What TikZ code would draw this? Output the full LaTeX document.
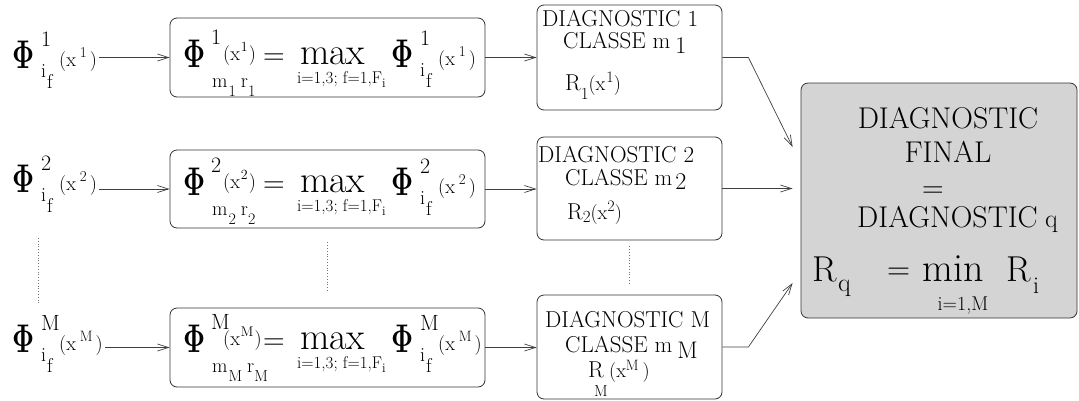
\RequirePackage{fix-cm}
\documentclass[tikz,border=0pt]{standalone}
\usepackage{graphicx}
\usetikzlibrary{arrows.meta}
\newcommand\fs[1]{\fontsize{#1}{#1}\selectfont}
\newcommand\bPhi{\scalebox{0.68}[1]{\fs{40}$\mathbf{\Phi}$}}
\tikzset{
 t/.style={inner sep=0pt, anchor=base west},
 tc/.style={inner sep=0pt, anchor=base},
 box/.style={draw=black!80, line width=0.8pt, rounded corners=7pt, inner sep=0pt},
 arr/.style={draw=black!75, line width=0.7pt, -{Straight Barb[length=11pt,width=7pt]}},
 dots/.style={draw=black!55, line width=0.8pt, dotted},
}
% Phi^{sup}_{i_f}(x^{sup}) with origin at the base of Phi
\newcommand\LeftLab[4]{%
 \begin{scope}[shift={(#2,#3)}]
  \node[t] (#1a) at (0,0) {\bPhi};
  \node[t,font=\fs{22}] (#1b) at (29,-22) {#4};
  \node[t,font=\fs{20}] (#1c) at (29,9) {i\kern1pt\raisebox{-11pt}{f}};
  \node[t,font=\fs{20}] (#1e) at (47,-2) {(x\kern4pt\raisebox{9pt}{\fs{15}#4}\kern3pt)};
 \end{scope}}
% contents of the max box
\newcommand\BoxRow[3]{%
 \begin{scope}[shift={(183,#2)}]
  \node[t] (#1a) at (0,0) {\bPhi};
  \node[t,font=\fs{22}] (#1b) at (28,-23) {#3};
  \node[t,font=\fs{20}] (#1e) at (40,-7) {(x\kern1pt\raisebox{9pt}{\fs{14}#3}\kern1pt)};
  \node[t,font=\fs{20}] (#1m) at (29,20) {m\kern1pt\raisebox{-9pt}{\fs{16}#3}\kern5pt r\raisebox{-9pt}{\fs{16}#3}};
  \node[t,font=\fs{30}] (#1q) at (80,-3) {=};
  \node[t,font=\fs{38}] (#1x) at (117,-3) {max};
  \node[t,font=\fs{17}] (#1l) at (114,16) {i=1,3; f=1,F\raisebox{-4pt}{\fs{13}i}};
 \end{scope}
 \LeftLab{#1r}{391}{#2}{#3}}
\begin{document}
\begin{tikzpicture}[x=1pt,y=-1pt]
\useasboundingbox (0,0) rectangle (1079,400);
% boxes
\node[box, minimum width=315pt, minimum height=79pt] (box1) at (327.5,57.5) {};
\node[box, minimum width=315pt, minimum height=78pt] (box2) at (327.5,189) {};
\node[box, minimum width=315pt, minimum height=79pt] (box3) at (327.5,347.5) {};
\node[box, minimum width=185pt, minimum height=105pt] (diag1) at (629.5,57.5) {};
\node[box, minimum width=185pt, minimum height=103pt] (diag2) at (629.5,188.5) {};
\node[box, minimum width=185pt, minimum height=104pt] (diag3) at (629.5,347) {};
\node[box, fill=black!17, minimum width=276pt, minimum height=235pt] (fin) at (939,200.5) {};

% left labels
\LeftLab{la}{12}{68}{1}
\LeftLab{lb}{12}{192}{2}
\LeftLab{lc}{12}{352}{M}
% max boxes
\BoxRow{ba}{67}{1}
\BoxRow{bb}{195}{2}
\BoxRow{bc}{352}{M}

% diagnostic boxes
\begin{scope}[every node/.append style={font=\fs{23}}]
\node[t] (d1a) at (542,26) {DIAGNOSTIC 1};
\node[t] (d1b) at (563,48) {CLASSE m\kern5pt\raisebox{-5pt}{\fs{24}1}};
\node[t] (d1c) at (565,90) {R\raisebox{-9pt}{\fs{17}1}{\fs{20}(x\kern1pt\raisebox{8pt}{\fs{16}1})}};
\node[t] (d2a) at (538,162) {DIAGNOSTIC 2};
\node[t] (d2b) at (565,185) {CLASSE m\kern3pt\raisebox{-4pt}{\fs{24}2}};
\node[t] (d2c) at (567,219) {R\raisebox{-3pt}{\fs{17}2}{\fs{20}(x\raisebox{8pt}{\fs{16}2})}};
\node[t] (d3a) at (545,327) {DIAGNOSTIC M};
\node[t] (d3b) at (565,352) {CLASSE m\kern5pt\raisebox{-6pt}{\fs{24}M}};
\node[t] (d3c) at (588,377) {R};
\node[t,font=\fs{16}] (d3d) at (594,396) {M};
\node[t,font=\fs{20}] (d3e) at (609,377) {(x\raisebox{7pt}{\fs{15}M}\kern4pt)};
\end{scope}

% final box
\node[tc,font=\fs{30}] (f1) at (948,128) {DIAGNOSTIC};
\node[tc,font=\fs{30}] (f2) at (948,162) {FINAL};
\node[tc,font=\fs{30}] (f3) at (933,197) {=};
\node[t,font=\fs{30}] (f4) at (857,227) {DIAGNOSTIC};
\node[t,font=\fs{26}] (f5) at (1045,227) {q};
\node[t,font=\fs{36}] (f6) at (812,281) {R};
\node[t,font=\fs{26}] (f7) at (838,291) {q};
\node[t,font=\fs{32}] (f8) at (887,279) {=};
\node[t,font=\fs{40}] (f9) at (922,281) {min};
\node[tc,font=\fs{20}] (f10) at (963,310) {i=1,M};
\node[t,font=\fs{36}] (f11) at (1006,281) {R};
\node[t,font=\fs{24}] (f12) at (1033,293) {i};

% connectors
\draw[arr, shorten <=2pt] (box1.west -| lae.east) -- (box1.west);
\draw[arr, shorten <=2pt] (box2.west -| lbe.east) -- (box2.west);
\draw[arr, shorten <=2pt] (box3.west -| lce.east) -- (box3.west);
\draw[arr] (box1.east) -- (box1.east -| diag1.west);
\draw[arr] (box2.east) -- (box2.east -| diag2.west);
\draw[arr] (box3.east) -- (box3.east -| diag3.west);
\coordinate (in1) at ([xshift=-8pt]fin.west |- 0,147);
\coordinate (in3) at ([xshift=-8pt]fin.west |- 0,283);
\draw[arr] (diag1.east) -- ++(26,0) -- (in1);
\draw[arr] (diag2.east) -- ([xshift=-8pt]fin.west |- diag2.east);
\draw[arr] (diag3.east) -- ++(26,0) -- (in3);

% ellipsis dots
\coordinate (e1) at (38,238);
\coordinate (e2) at (38,305);
\draw[dots] (e1) -- (e2);
\draw[dots] ([yshift=-14pt]box2.south) -- ([yshift=16pt]box3.north);
\draw[dots] ([yshift=-6pt]diag2.south) -- ([yshift=10pt]diag3.north);
\end{tikzpicture}
\end{document}
